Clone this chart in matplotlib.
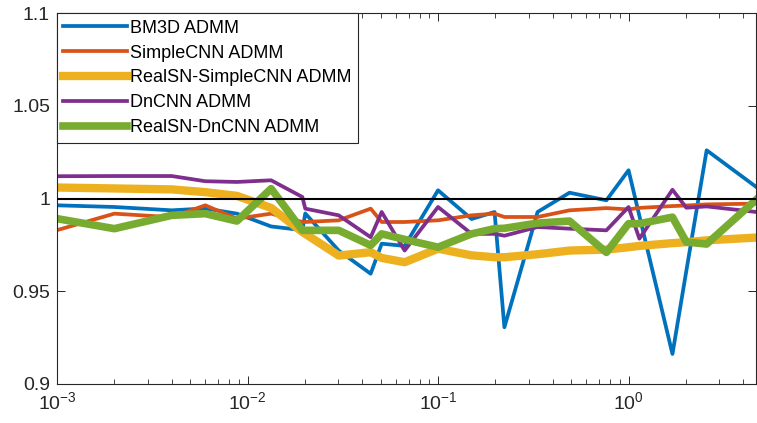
import numpy as np
import matplotlib
matplotlib.use('Agg')
from matplotlib import pyplot as plt
from matplotlib.ticker import LogLocator, FixedLocator, NullFormatter

plt.rcParams['font.family'] = ['Liberation Sans', 'DejaVu Sans']
plt.rcParams['mathtext.fontset'] = 'custom'
plt.rcParams['mathtext.rm'] = 'Liberation Sans'
plt.rcParams['mathtext.it'] = 'Liberation Sans'

# sample positions (shared by all curves)
x = [0.001, 0.002, 0.004, 0.006, 0.0088, 0.0133, 0.0194, 0.0201, 0.0301, 0.0443,
     0.0506, 0.0668, 0.1, 0.15, 0.198, 0.223, 0.333, 0.49, 0.765, 1.0,
     1.14, 1.70, 2.01, 2.57, 4.68]

bm3d = [0.9964, 0.9955, 0.9937, 0.9947, 0.9919, 0.985, 0.983, 0.992, 0.972, 0.9595,
        0.9757, 0.9745, 1.0045, 0.989, 0.9928, 0.9306, 0.9928, 1.0032, 0.9991, 1.0153,
        0.9907, 0.9162, 0.961, 1.0261, 1.0063]
simplecnn = [0.983, 0.9919, 0.990, 0.9964, 0.9892, 0.9919, 0.9874, 0.9874, 0.9883, 0.9946,
             0.9874, 0.9874, 0.9883, 0.991, 0.9919, 0.9901, 0.9901, 0.9937, 0.9949, 0.9942,
             0.995, 0.996, 0.9963, 0.9969, 0.9973]
realsn_simple = [1.006, 1.0055, 1.005, 1.0035, 1.0015, 0.995, 0.982, 0.981, 0.9693, 0.9711,
                 0.968, 0.9657, 0.973, 0.9694, 0.9684, 0.9684, 0.970, 0.972, 0.9725, 0.9738,
                 0.9745, 0.976, 0.9765, 0.9775, 0.979]
dncnn = [1.0121, 1.0122, 1.0122, 1.0094, 1.009, 1.0099, 1.0009, 0.9946, 0.991, 0.9792,
         0.9928, 0.972, 0.9955, 0.981, 0.981, 0.980, 0.9847, 0.9838, 0.9829, 0.9955,
         0.9784, 1.0048, 0.9951, 0.9958, 0.9928]
realsn_dncnn = [0.9892, 0.9838, 0.991, 0.9919, 0.9879, 1.0054, 0.9829, 0.9829, 0.9829, 0.9748,
                0.981, 0.978, 0.9738, 0.981, 0.9838, 0.984, 0.9868, 0.9879, 0.971, 0.9865,
                0.9865, 0.990, 0.9766, 0.9755, 0.9995]

labels = ['BM3D ADMM', 'SimpleCNN ADMM', 'RealSN-SimpleCNN ADMM', 'DnCNN ADMM', 'RealSN-DnCNN ADMM']

fig = plt.figure(figsize=(7.57, 4.23), dpi=100)
ax = fig.add_axes([0.0753, 0.0922, 0.9237, 0.8764])

ax.plot(x, bm3d, color=(0, 0.447, 0.741), lw=2.7, label=labels[0])
ax.plot(x, simplecnn, color=(0.85, 0.325, 0.098), lw=2.7, label=labels[1])
ax.plot(x, realsn_simple, color=(0.929, 0.694, 0.125), lw=6, label=labels[2])
ax.plot(x, dncnn, color=(0.494, 0.184, 0.556), lw=2.7, label=labels[3])
ax.plot(x, realsn_dncnn, color=(0.466, 0.674, 0.188), lw=5.5, label=labels[4])
ax.axhline(1, color='k', lw=1.5, zorder=5)

ax.set_xscale('log')
ax.set_xlim(1e-3, 4.68)
ax.set_ylim(0.9, 1.1)
ax.yaxis.set_major_locator(FixedLocator([0.9, 0.95, 1.0, 1.05, 1.1]))
ax.set_yticklabels(['0.9', '0.95', '1', '1.05', '1.1'])
ax.xaxis.set_major_locator(LogLocator(base=10, numticks=10))
ax.xaxis.set_minor_locator(LogLocator(base=10, subs=np.arange(2, 10), numticks=20))
ax.xaxis.set_minor_formatter(NullFormatter())

gray = (0.15, 0.15, 0.15)
for s in ax.spines.values():
    s.set_color(gray)
    s.set_linewidth(0.8)
ax.tick_params(which='both', direction='in', top=True, right=True, colors=gray,
               labelsize=14)
ax.tick_params(which='major', length=5.5, width=0.7)
ax.tick_params(which='minor', length=3.3, width=0.6)
ax.tick_params(axis='x', pad=5)
ax.tick_params(axis='y', pad=5)

leg = ax.legend(loc='upper left', bbox_to_anchor=(0, 1), borderaxespad=0,
                fancybox=False, framealpha=1, edgecolor=gray, fontsize=13,
                handlelength=3.5, handletextpad=0.22, labelspacing=0.44,
                borderpad=0.35)
leg.get_frame().set_linewidth(0.8)

fig.savefig('out.png', dpi=100)
